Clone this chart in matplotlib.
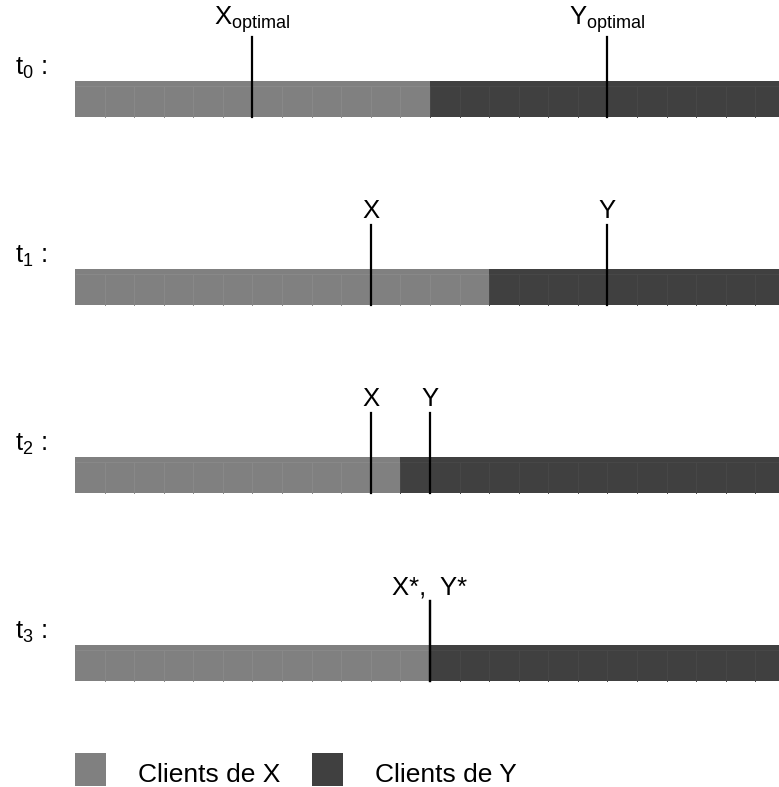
import matplotlib.pyplot as plt
from matplotlib.patches import Rectangle

plt.rcParams['font.family'] = ['Liberation Sans', 'DejaVu Sans']
plt.rcParams['mathtext.fontset'] = 'custom'
plt.rcParams['mathtext.rm'] = 'Liberation Sans'
plt.rcParams['mathtext.it'] = 'Liberation Sans'

# données : 24 clients sur le segment, positions de X et Y à chaque étape
n_clients = 24
etapes = ['t$_0$ :', 't$_1$ :', 't$_2$ :', 't$_3$ :']
pos_x = [6, 10, 10, 12]
pos_y = [18, 18, 12, 12]
frontiere = [12, 14, 11, 12]
label_x = ['X$_{\\rm optimal}$', 'X', 'X', None]
label_y = ['Y$_{\\rm optimal}$', 'Y', 'Y', None]
label_commun = [None, None, None, 'X*,  Y*']
legende = ['Clients de X', 'Clients de Y']

gris_x = '#808080'
gris_y = '#404040'
bord_x = '#898989'
bord_y = '#484848'

fig = plt.figure(figsize=(7.79, 7.87), dpi=100)
ax = fig.add_axes([0, 0, 1, 1])
cell = 29.58
ax.set_xlim(-75 / cell, (779 - 75) / cell)
ax.set_ylim(787, 0)
ax.axis('off')

fs = 18.5
haut_barre = 36
for k, et in enumerate(etapes):
    top = 81 + 188 * k
    # clients
    for i in range(n_clients):
        c = gris_x if i < frontiere[k] else gris_y
        b = bord_x if i < frontiere[k] else bord_y
        ax.add_patch(Rectangle((i, top), 1, haut_barre, facecolor=c, edgecolor='none'))
        ax.plot([i + 0.03, i + 0.97], [top + 5, top + 5], color=b, lw=0.7)
        if i > 0:
            ax.plot([i, i], [top + 5, top + haut_barre], color=b, lw=0.7)
    # étiquette t
    ax.text(-75 / cell + 15 / cell, top - 6, et, fontsize=fs, ha='left', va='baseline')
    # positions de X et Y
    for p, lab in [(pos_x[k], label_x[k]), (pos_y[k], label_y[k])]:
        ax.plot([p, p], [top - 44, top + haut_barre], color='black', lw=1.6)
        if lab:
            ax.text(p, top - 46, lab, fontsize=fs, ha='center', va='bottom')
    if label_commun[k]:
        ax.text(pos_x[k], top - 46, label_commun[k], fontsize=fs,
                ha='center', va='bottom')

# légende
for j, (txt, c) in enumerate(zip(legende, [gris_x, gris_y])):
    x0 = 8 * j
    ax.add_patch(Rectangle((x0, 753), 31 / cell, 33, facecolor=c, edgecolor='none'))
    ax.text(x0 + 63 / cell, 782, txt, fontsize=19, ha='left', va='baseline')

fig.savefig('out.png', dpi=100)
